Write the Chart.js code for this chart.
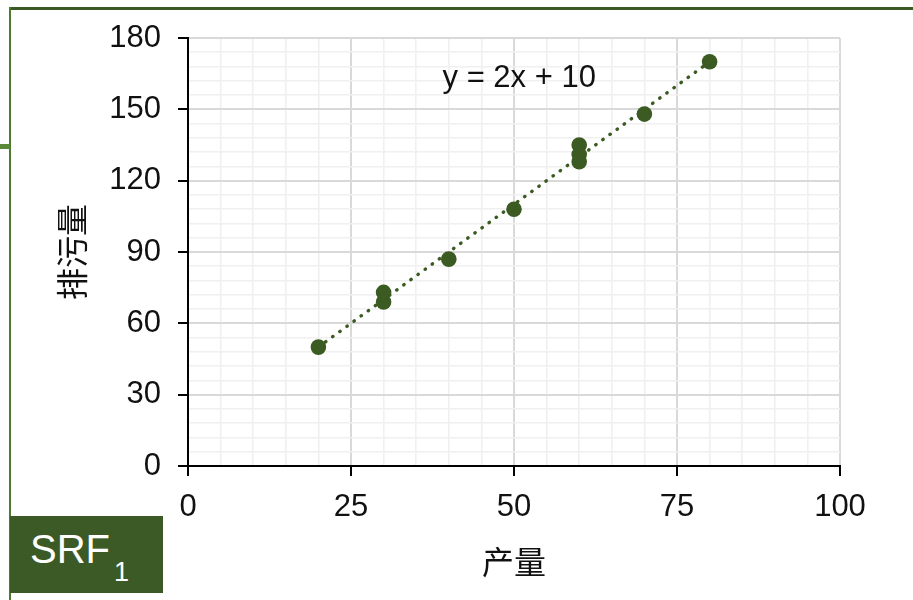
<!DOCTYPE html>
<html>
<head>
<meta charset="utf-8">
<script src="https://cdn.jsdelivr.net/npm/chart.js@4/dist/chart.umd.min.js"></script>
<style>
  html, body { margin: 0; padding: 0; background: #fff; }
  #wrap { position: relative; width: 913px; height: 600px; overflow: hidden; }
  #c { position: absolute; left: 0; top: 0; }
  .frame-top { position: absolute; left: 9px; top: 7px; width: 904px; height: 3px; background: #3b5a23; }
  .frame-left { position: absolute; left: 9px; top: 7px; width: 2px; height: 593px; background: #4e7a2e; }
  .frame-stub { position: absolute; left: 0; top: 144px; width: 10px; height: 5px; background: #5a8a38; }
  .tag { position: absolute; left: 10px; top: 516px; width: 153px; height: 77px; background: #3c5a25;
         color: #fff; font-family: "Liberation Sans", Arial, sans-serif; }
  .tag .main { position: absolute; left: 20px; top: 10px; font-size: 40px; line-height: 46px; }
  .tag .sub { position: absolute; left: 104px; top: 40px; font-size: 27px; line-height: 32px; }
</style>
</head>
<body>
<div id="wrap">
  <canvas id="c" width="913" height="600"></canvas>
  <div class="frame-top"></div>
  <div class="frame-left"></div>
  <div class="frame-stub"></div>
  <div class="tag"><span class="main">SRF</span><span class="sub">1</span></div>
</div>
<script>
// Observations: output (产量) and emissions (排污量)
const outputX   = [20, 30, 30, 40, 50, 60, 60, 60, 70, 80];
const emissionY = [50, 73, 69, 87, 108, 135, 131, 128, 148, 170];

// Fitted line y = 2x + 10, drawn over the observed output range
const slope = 2;
const intercept = 10;
const fitRange = [20, 80];
const equationText = 'y = 2x + 10';

// Axis ticks: minor grid steps and labelled major steps
const xTicks = [0, 5, 10, 15, 20, 25, 30, 35, 40, 45, 50, 55, 60, 65, 70, 75, 80, 85, 90, 95, 100];
const xMajor = [0, 25, 50, 75, 100];
const yTicks = [0, 6, 12, 18, 24, 30, 36, 42, 48, 54, 60, 66, 72, 78, 84, 90, 96, 102, 108, 114,
                120, 126, 132, 138, 144, 150, 156, 162, 168, 174, 180];
const yMajor = [0, 30, 60, 90, 120, 150, 180];

const xTitle = '产量';
const yTitle = '排污量';

const pointColor = '#3b5b22';
const tickFont = { family: '"Liberation Sans", Arial, sans-serif', size: 31 };
const cjkFont = { family: '"Noto Sans CJK SC", sans-serif', size: 32 };

const points = outputX.map((x, i) => ({ x: x, y: emissionY[i] }));
const fitLine = fitRange.map(x => ({ x: x, y: slope * x + intercept }));

const equationLabel = {
  id: 'equationLabel',
  afterDatasetsDraw(chart) {
    const { ctx, scales } = chart;
    ctx.save();
    ctx.font = '31px "Liberation Sans", Arial, sans-serif';
    ctx.fillStyle = '#111';
    ctx.textAlign = 'center';
    ctx.textBaseline = 'middle';
    ctx.fillText(equationText, scales.x.getPixelForValue(50.8), scales.y.getPixelForValue(163));
    ctx.restore();
  }
};

function gridStyle(majorList) {
  return {
    color: ctx => majorList.includes(ctx.tick.value) ? '#d9d9d9' : '#f0f0f0',
    lineWidth: ctx => majorList.includes(ctx.tick.value) ? 2 : 1.6,
    tickColor: ctx => majorList.includes(ctx.tick.value) ? '#000' : 'rgba(0,0,0,0)',
    tickWidth: 2,
    tickLength: 10,
    drawTicks: true
  };
}

new Chart(document.getElementById('c'), {
  data: {
    datasets: [
      {
        type: 'line',
        data: fitLine,
        borderColor: pointColor,
        borderWidth: 3.4,
        borderDash: [0.5, 8.3],
        borderCapStyle: 'round',
        pointRadius: 0,
        fill: false,
        order: 2
      },
      {
        type: 'scatter',
        data: points,
        backgroundColor: pointColor,
        borderColor: pointColor,
        pointRadius: 7.8,
        pointHoverRadius: 7.8,
        borderWidth: 0,
        order: 1
      }
    ]
  },
  options: {
    responsive: false,
    animation: false,
    events: [],
    layout: { padding: { left: 0, top: 38, right: 73, bottom: 0 } },
    plugins: { legend: { display: false }, tooltip: { enabled: false } },
    scales: {
      x: {
        type: 'linear',
        position: 'bottom',
        min: 0, max: 100,
        afterBuildTicks: s => { s.ticks = xTicks.map(v => ({ value: v })); },
        afterFit: s => { s.height = 134; },
        ticks: {
          autoSkip: false,
          maxRotation: 0,
          padding: 13,
          color: '#111',
          font: tickFont,
          callback: v => xMajor.includes(v) ? String(v) : ''
        },
        grid: gridStyle(xMajor),
        border: { display: true, color: '#000', width: 2 },
        title: { display: true, text: xTitle, color: '#111', font: cjkFont, padding: { top: 0, bottom: 19 } }
      },
      y: {
        type: 'linear',
        position: 'left',
        min: 0, max: 180,
        afterBuildTicks: s => { s.ticks = yTicks.map(v => ({ value: v })); },
        afterFit: s => { s.width = 188; },
        ticks: {
          autoSkip: false,
          padding: 17,
          color: '#111',
          font: tickFont,
          callback: v => yMajor.includes(v) ? String(v) : ''
        },
        grid: gridStyle(yMajor),
        border: { display: true, color: '#000', width: 2 },
        title: { display: true, text: yTitle, color: '#111', font: cjkFont, padding: { top: 53, bottom: 0 } }
      }
    }
  },
  plugins: [equationLabel]
});
</script>
</body>
</html>
